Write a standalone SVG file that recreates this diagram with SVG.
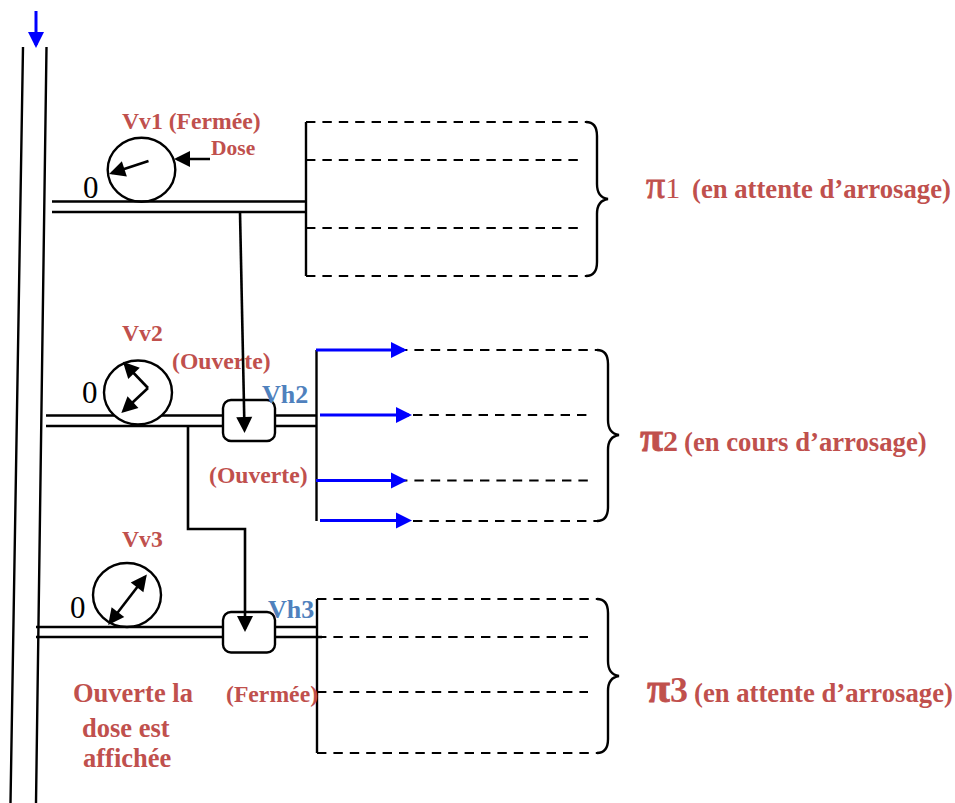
<svg xmlns="http://www.w3.org/2000/svg" width="955" height="803" viewBox="0 0 955 803">
<style>
.l{fill:none;stroke:#000;stroke-width:2.4}
.d{fill:none;stroke:#000;stroke-width:2;stroke-dasharray:9.4 7}
.b{fill:none;stroke:#0000ff;stroke-width:3;marker-end:url(#hb)}
.a{fill:none;stroke:#000;stroke-width:2.6;marker-end:url(#hk)}
.c{fill:#fff;stroke:#000;stroke-width:2.4}
text{font-family:"Liberation Serif","Times New Roman",serif}
.r{font-weight:bold;fill:#c0504d;font-size:23.7px}
.o{font-weight:bold;fill:#c0504d;font-size:26.500px}
.p{font-weight:bold;fill:#c0504d;font-size:26.7px}
.h{font-weight:bold;fill:#4f81bd;font-size:26px}
.z{fill:#000;font-size:31px}
.g{fill:#c0504d;font-size:42px;stroke:#c0504d;stroke-width:.8}
.n{stroke:none}
</style>
<defs>
<marker id="hk" markerUnits="userSpaceOnUse" markerWidth="18" markerHeight="18" viewBox="0 0 18 18" refX="14" refY="9" orient="auto-start-reverse"><path d="M1,1L17,9L1,17Z" fill="#000"/></marker>
<marker id="hb" markerUnits="userSpaceOnUse" markerWidth="18" markerHeight="18" viewBox="0 0 18 18" refX="14" refY="9" orient="auto"><path d="M1,1L17,9L1,17Z" fill="#0000ff"/></marker>
</defs>
<rect width="955" height="803" fill="#fff"/>
<g id="pi1-branches">
<path class="l" d="M306,122V276"/>
<path class="d" d="M306,122H586M306,160H578M306,228H578M306,276H586"/>
<path class="l" d="M586,122C594,122 597,127 597,136V184C597,193 601,198 608,199C601,200 597,205 597,214V262C597,271 594,276 586,276"/>
<text x="646" y="198" class="g" style="font-size:38px">π<tspan class="n" font-size="30">1</tspan></text>
<text x="692" y="198" class="p">(en attente d’arrosage)</text>
</g>
<g id="pi2-branches">
<path class="l" d="M316.500,350V521"/>
<path class="d" d="M398,350H597M413,415H588M398,480.500H588M413,521H597"/>
<path class="l" d="M597,350C605,350 608,355 608,364V420C608,429 612,434 619,435C612,436 608,441 608,450V507C608,516 605,521 597,521"/>
<text x="640" y="451" class="g" font-weight="bold">π<tspan class="n" font-size="30">2</tspan></text>
<text x="684" y="451" class="p">(en cours d’arrosage)</text>
</g>
<g id="pi3-branches">
<path class="l" d="M317,599V753"/>
<path class="d" d="M317,599H597M317,637H588M317,692H588M317,753H597"/>
<path class="l" d="M597,599C605,599 608,604 608,613V661C608,670 612,675 619,676C612,677 608,682 608,691V739C608,748 605,753 597,753"/>
<text x="647" y="702" class="g" font-weight="bold">π<tspan class="n" font-size="36">3</tspan></text>
<text x="694" y="702" class="p">(en attente d’arrosage)</text>
</g>
<g id="Vv1">
<ellipse class="c" cx="141.500" cy="169.700" rx="33.800" ry="32"/>
<path class="a" d="M148.500,161L112,173"/>
<path class="a" d="M210,159H177"/>
<text x="122" y="129" class="r">Vv1 (Fermée)</text>
<text x="211" y="155" class="r" style="font-size:21.500px">Dose</text>
<text x="83" y="198" class="z">0</text>
</g>
<g id="Vv2">
<ellipse class="c" cx="138" cy="392.500" rx="34" ry="32"/>
<path class="a" d="M148,388L125,364"/>
<path class="a" d="M148,388L123.500,411"/>
<text x="122" y="341" class="r">Vv2</text>
<text x="172" y="369" class="r">(Ouverte)</text>
<text x="82" y="403" class="z">0</text>
</g>
<g id="Vh2">
<rect class="c" x="223" y="400" width="52" height="41" rx="8"/>
<text x="262" y="403" class="h">Vh2</text>
<text x="209" y="483" class="r">(Ouverte)</text>
</g>
<g id="Vv3">
<ellipse class="c" cx="127" cy="595" rx="34" ry="32"/>
<path class="a" d="M110,622.500L145,577" marker-start="url(#hk)"/>
<text x="122" y="547" class="r">Vv3</text>
<text x="70" y="618" class="z">0</text>
<text x="73" y="702" class="o">Ouverte la</text>
<text x="82" y="737" class="o">dose est</text>
<text x="83" y="767" class="o">affichée</text>
</g>
<g id="Vh3">
<rect class="c" x="223" y="612" width="52" height="40.500" rx="8"/>
<text x="268" y="618" class="h">Vh3</text>
<text x="226" y="702" class="r">(Fermée)</text>
</g>
<g id="connectors">
<path class="l" d="M23,47L10.500,803M46.500,47L36,803"/>
<path class="b" d="M36,11V45"/>
<path class="l" d="M52,201.500H306M52,212H306"/>
<path class="a" d="M240,212L244.500,430"/>
<path class="l" d="M46,415.500H114.400M161.600,415.500H223M46,426H223M275,415.500H317M275,426H317"/>
<path class="a" d="M188,426V529H245V629"/>
<path class="l" d="M36,627H223M36,637H223M275,627H317M275,637H322"/>
<path class="b" d="M316,350H404"/>
<path class="b" d="M320,415H409"/>
<path class="b" d="M316,480.500H404"/>
<path class="b" d="M320,520.500H409"/>
</g>
</svg>
